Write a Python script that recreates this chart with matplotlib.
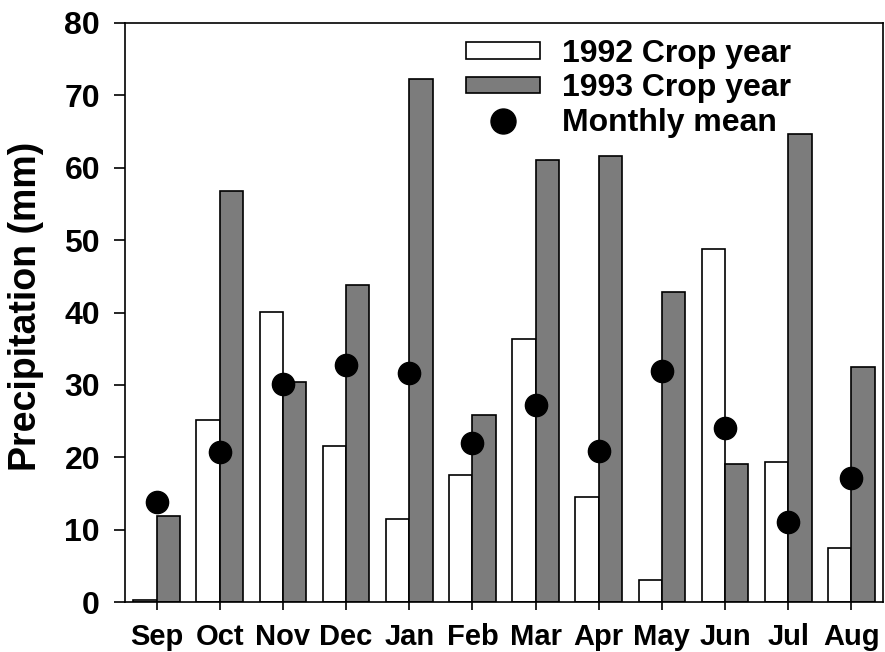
import matplotlib
matplotlib.use('Agg')
import matplotlib.pyplot as plt
from matplotlib.patches import Patch
from matplotlib.lines import Line2D
import numpy as np

plt.rcParams['font.family'] = ['Liberation Sans', 'DejaVu Sans']
plt.rcParams['font.weight'] = 'bold'

months = ['Sep', 'Oct', 'Nov', 'Dec', 'Jan', 'Feb', 'Mar', 'Apr', 'May', 'Jun', 'Jul', 'Aug']
crop_1992 = [0.3, 25.1, 40.1, 21.6, 11.5, 17.6, 36.3, 14.5, 3.0, 48.8, 19.3, 7.4]
crop_1993 = [11.9, 56.8, 30.4, 43.8, 72.3, 25.8, 61.1, 61.6, 42.9, 19.1, 64.7, 32.5]
monthly_mean = [13.8, 20.7, 30.1, 32.8, 31.6, 22.0, 27.2, 20.9, 31.9, 24.0, 11.0, 17.1]

x = np.arange(len(months))
w = 0.37
gray = '#7c7c7c'

fig = plt.figure(figsize=(8.85, 6.52), dpi=100)
ax = fig.add_axes([125 / 885, 1 - 602 / 652, 758 / 885, 579 / 652])

ax.bar(x - w, crop_1992, width=w, align='edge', color='white', edgecolor='black', linewidth=1.2, zorder=2)
ax.bar(x, crop_1993, width=w, align='edge', color=gray, edgecolor='black', linewidth=1.2, zorder=2)
ax.plot(x, monthly_mean, 'o', color='black', markersize=16, zorder=3)

ax.set_xlim(-0.5, 11.5)
ax.set_ylim(0, 80)
ax.set_yticks(range(0, 81, 10))
ax.set_xticks(x)
ax.set_xticklabels(months, family=['Liberation Sans Narrow', 'Liberation Sans'], fontsize=21)
ax.tick_params(axis='y', labelsize=23, length=8, width=1.2, pad=10)
ax.tick_params(axis='x', length=6, width=1.2, pad=9)
for s in ax.spines.values():
    s.set_linewidth(1.2)

ax.set_ylabel('Precipitation (mm)', fontsize=27, fontweight='bold', va='center')
ax.yaxis.set_label_coords(-0.131, 0.51)

handles = [
    Patch(facecolor='white', edgecolor='black', linewidth=1.2),
    Patch(facecolor=gray, edgecolor='black', linewidth=1.2),
    Line2D([], [], marker='o', color='black', linestyle='none', markersize=18),
]
labels = ['1992 Crop year', '1993 Crop year', 'Monthly mean']
ax.legend(handles, labels, loc='upper right', bbox_to_anchor=(0.9, 1.0), frameon=False,
          fontsize=23, handlelength=2.3, handleheight=0.4, handletextpad=0.7,
          labelspacing=0.14, borderaxespad=0.1)

fig.savefig('out.png', dpi=100)
